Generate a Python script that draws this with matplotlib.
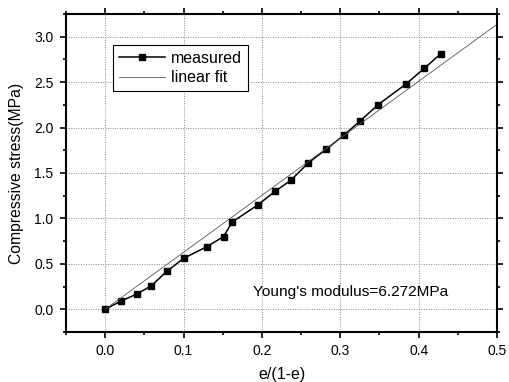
import numpy as np
import matplotlib.pyplot as plt
from matplotlib.ticker import MultipleLocator

plt.rcParams['font.family'] = ['Liberation Sans', 'DejaVu Sans']

# ============ data ============
strain = [0.0, 0.020, 0.041, 0.059, 0.079, 0.100, 0.130, 0.151, 0.162, 0.195,
          0.217, 0.237, 0.259, 0.282, 0.305, 0.325, 0.348, 0.384, 0.407, 0.428]
stress = [0.0, 0.09, 0.17, 0.26, 0.42, 0.56, 0.69, 0.80, 0.96, 1.15,
          1.30, 1.42, 1.61, 1.76, 1.92, 2.07, 2.25, 2.48, 2.65, 2.81]
modulus = 6.272
fit_x = np.array([0.0, 0.5])
fit_y = modulus * fit_x

fig = plt.figure(figsize=(5.09, 3.82), dpi=100)
ax = fig.add_axes([0.1297, 0.1309, 0.8467, 0.8325])

ax.plot(strain, stress, color='black', lw=1.1, marker='s', ms=4.8,
        label='measured')
ax.plot(fit_x, fit_y, color='#555555', lw=0.6, label='linear fit')

ax.set_xlim(-0.05, 0.5)
ax.set_ylim(-0.25, 3.25)
ax.xaxis.set_minor_locator(MultipleLocator(0.05))
ax.yaxis.set_minor_locator(MultipleLocator(0.25))
ax.set_xticks(np.arange(0, 0.51, 0.1))
ax.set_xticklabels(['0.0', '0.1', '0.2', '0.3', '0.4', '0.5'])
ax.set_yticks(np.arange(0, 3.01, 0.5))
ax.set_yticklabels(['%.1f' % v for v in np.arange(0, 3.01, 0.5)])

ax.tick_params(which='both', direction='out', top=True, right=True,
               labelsize=10, width=1.2)
ax.tick_params(which='major', length=4, pad=5)
ax.tick_params(which='minor', length=2.5)
for s in ax.spines.values():
    s.set_linewidth(1.5)

ax.grid(True, which='major', color='#888888', ls=(0, (1, 1.5)), lw=0.7)

ax.set_xlabel('e/(1-e)', fontsize=11.5, labelpad=6)
ax.set_ylabel('Compressive stress(MPa)', fontsize=11.3, labelpad=7)

ax.text(0.188, 0.19, "Young's modulus=6.272MPa", fontsize=11.1, va='center')

leg = ax.legend(loc='upper left', bbox_to_anchor=(0.109, 0.9025),
                borderaxespad=0, fontsize=11.5,
                fancybox=False, framealpha=1, edgecolor='black',
                handlelength=2.9, borderpad=0.35, labelspacing=0.3,
                handletextpad=0.4)
leg.get_frame().set_linewidth(0.8)

fig.savefig('out.png', dpi=100)
